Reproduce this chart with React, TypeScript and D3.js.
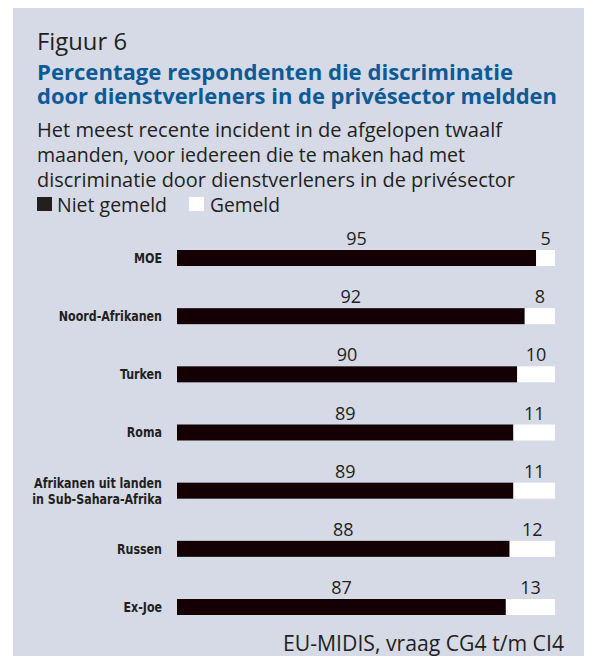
import * as d3 from "d3";

const categories = [
  "MOE",
  "Noord-Afrikanen",
  "Turken",
  "Roma",
  "Afrikanen uit landen\nin Sub-Sahara-Afrika",
  "Russen",
  "Ex-Joe",
];
const notReported = [95, 92, 90, 89, 89, 88, 87];
const reported = [5, 8, 10, 11, 11, 12, 13];

const titleLines = [
  "Percentage respondenten die discriminatie",
  "door dienstverleners in de privésector meldden",
];
const subtitleLines = [
  "Het meest recente incident in de afgelopen twaalf",
  "maanden, voor iedereen die te maken had met",
  "discriminatie door dienstverleners in de privésector",
];
const legendLabels = ["Niet gemeld", "Gemeld"];
const source = "EU-MIDIS, vraag CG4 t/m CI4";

const W = 599;
const H = 664;
const BG = "#d5dae6";
const DARK = "#140004";
const BLUE = "#0d5a97";
const INK = "#231f20";
const SANS = "'Open Sans', 'Noto Sans', sans-serif";
const COND = "'DejaVu Sans Condensed', 'Liberation Sans Narrow', sans-serif";

export default function App() {
  const x = d3.scaleLinear().domain([0, 100]).range([177, 555]);
  const y = d3.scalePoint<string>().domain(categories).range([250, 599]);
  const barH = 16;

  return (
    <svg width={W} height={H} style={{ display: "block", margin: -8 }}>
      <rect x={0} y={0} width={W} height={H} fill="#fff" />
      <rect x={13} y={8} width={571} height={649} fill={BG} />

      <text
        x={37}
        y={50}
        fontFamily={SANS}
        fontSize={23}
        fill={INK}
        textLength={90}
        lengthAdjust="spacingAndGlyphs"
      >
        Figuur 6
      </text>
      {titleLines.map((t, i) => (
        <text
          key={t}
          x={37}
          y={80 + i * 24}
          fontFamily={SANS}
          fontWeight={700}
          fontSize={22}
          fill={BLUE}
          textLength={i === 0 ? 476 : 520}
          lengthAdjust="spacingAndGlyphs"
        >
          {t}
        </text>
      ))}
      {subtitleLines.map((t, i) => (
        <text
          key={t}
          x={37}
          y={137 + i * 25}
          fontFamily={SANS}
          fontSize={20}
          fill={INK}
          textLength={[465, 428, 478][i]}
          lengthAdjust="spacingAndGlyphs"
        >
          {t}
        </text>
      ))}

      {/* legend */}
      <rect x={37} y={197} width={15} height={14} fill={INK} />
      <text
        x={57}
        y={212}
        fontFamily={SANS}
        fontSize={20}
        fill={INK}
        textLength={110}
        lengthAdjust="spacingAndGlyphs"
      >
        {legendLabels[0]}
      </text>
      <rect x={189} y={197} width={15} height={14} fill="#fff" />
      <text
        x={210}
        y={212}
        fontFamily={SANS}
        fontSize={20}
        fill={INK}
        textLength={70}
        lengthAdjust="spacingAndGlyphs"
      >
        {legendLabels[1]}
      </text>

      {categories.map((c, i) => {
        const top = y(c) ?? 0;
        const lines = c.split("\n");
        const mid = top + barH / 2;
        const x0 = x(0);
        const x1 = x(notReported[i]);
        const x2 = x(notReported[i] + reported[i]);
        return (
          <g key={c}>
            <rect x={x0} y={top} width={x1 - x0} height={barH} fill={DARK} />
            <rect x={x1} y={top} width={x2 - x1} height={barH} fill="#fff" />
            <g transform="translate(162,0) scale(0.88,1)">
              {lines.map((l, j) => (
                <text
                  key={l}
                  x={0}
                  y={mid + 5 + (j - (lines.length - 1) / 2) * 16}
                  textAnchor="end"
                  fontFamily={COND}
                  fontWeight={700}
                  fontSize={14}
                  fill={INK}
                >
                  {l}
                </text>
              ))}
            </g>
            <text
              x={(x0 + x1) / 2}
              y={top - 5}
              textAnchor="middle"
              fontFamily={SANS}
              fontSize={18}
              fill={INK}
            >
              {notReported[i]}
            </text>
            <text
              x={(x1 + x2) / 2}
              y={top - 5}
              textAnchor="middle"
              fontFamily={SANS}
              fontSize={18}
              fill={INK}
            >
              {reported[i]}
            </text>
          </g>
        );
      })}

      <text
        x={564}
        y={651}
        textAnchor="end"
        fontFamily={SANS}
        fontSize={21}
        fill={INK}
        textLength={281}
        lengthAdjust="spacingAndGlyphs"
      >
        {source}
      </text>
    </svg>
  );
}
